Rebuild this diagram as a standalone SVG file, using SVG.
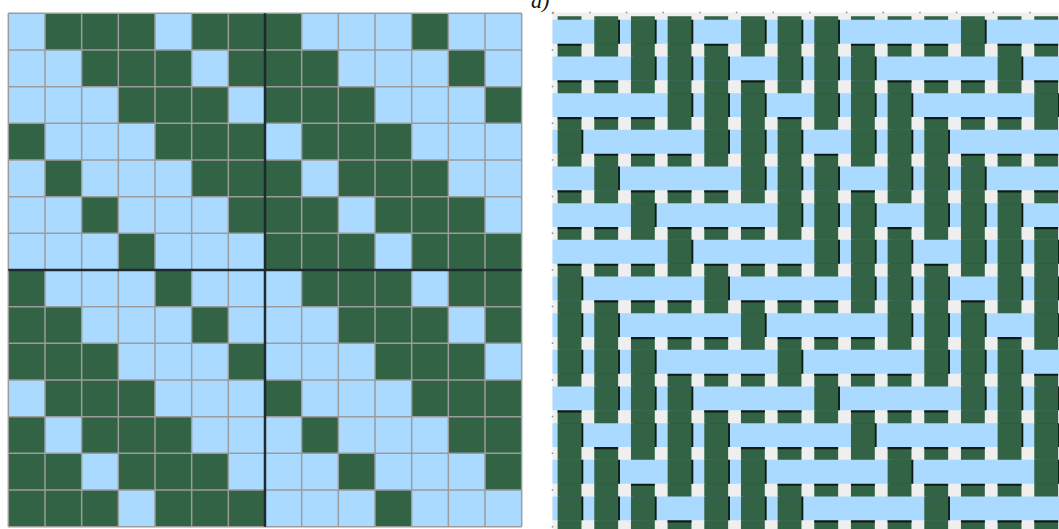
<svg xmlns="http://www.w3.org/2000/svg" width="1059" height="529" viewBox="0 0 1059 529">
<style>
.dk{fill:#316344}
.lt{fill:#AADAFF}
.sh{fill:#0f1c14}
.grid{stroke:#9c9c9c;stroke-width:1.5;fill:none}
.mid{stroke:#1e2a30;stroke-width:2.5;fill:none}
.tick{stroke:#8a8a8a;stroke-width:1.5;fill:none;stroke-dasharray:1.5 35.17}
.lbl{font-family:"Liberation Serif","Times New Roman",serif;font-style:italic;font-size:22px;fill:#111}
</style>
<defs>
<path id="cellsA" d="M100 0h300v100h-300z M500 0h200v100h-200z M200 100h300v100h-300z M600 100h100v100h-100z M300 200h300v100h-300z M0 300h100v100h-100z M400 300h300v100h-300z M100 400h100v100h-100z M500 400h200v100h-200z M200 500h100v100h-100z M600 500h100v100h-100z M300 600h100v100h-100z"/>
<path id="upA" d="M114 20h65v65h-65z M214 20h65v65h-65z M314 20h65v65h-65z M514 20h65v65h-65z M614 20h65v65h-65z M214 120h65v65h-65z M314 120h65v65h-65z M414 120h65v65h-65z M614 120h65v65h-65z M314 220h65v65h-65z M414 220h65v65h-65z M514 220h65v65h-65z M14 320h65v65h-65z M414 320h65v65h-65z M514 320h65v65h-65z M614 320h65v65h-65z M114 420h65v65h-65z M514 420h65v65h-65z M614 420h65v65h-65z M214 520h65v65h-65z M614 520h65v65h-65z M314 620h65v65h-65z"/>
<path id="upB" d="M14 20h65v65h-65z M414 20h65v65h-65z M14 120h65v65h-65z M114 120h65v65h-65z M514 120h65v65h-65z M14 220h65v65h-65z M114 220h65v65h-65z M214 220h65v65h-65z M614 220h65v65h-65z M114 320h65v65h-65z M214 320h65v65h-65z M314 320h65v65h-65z M14 420h65v65h-65z M214 420h65v65h-65z M314 420h65v65h-65z M414 420h65v65h-65z M14 520h65v65h-65z M114 520h65v65h-65z M314 520h65v65h-65z M414 520h65v65h-65z M514 520h65v65h-65z M14 620h65v65h-65z M114 620h65v65h-65z M214 620h65v65h-65z M414 620h65v65h-65z M514 620h65v65h-65z M614 620h65v65h-65z"/>
</defs>
<rect width="1059" height="529" fill="#ffffff"/>
<text class="lbl" x="531" y="8">a)</text>
<g id="draft" transform="translate(8.333 13.333) scale(0.366667)">
<rect x="0" y="0" width="1400" height="1400" class="lt"/>
<rect x="700" y="0" width="700" height="700" class="dk"/>
<rect x="0" y="700" width="700" height="700" class="dk"/>
<use href="#cellsA" class="dk"/>
<use href="#cellsA" class="dk" x="700" y="700"/>
<use href="#cellsA" class="lt" x="700"/>
<use href="#cellsA" class="lt" y="700"/>
<path class="grid" vector-effect="non-scaling-stroke" d="M0 0V1400M100 0V1400M200 0V1400M300 0V1400M400 0V1400M500 0V1400M600 0V1400M800 0V1400M900 0V1400M1000 0V1400M1100 0V1400M1200 0V1400M1300 0V1400M1400 0V1400M0 0H1400M0 100H1400M0 200H1400M0 300H1400M0 400H1400M0 500H1400M0 600H1400M0 800H1400M0 900H1400M0 1000H1400M0 1100H1400M0 1200H1400M0 1300H1400M0 1400H1400"/>
<path class="mid" vector-effect="non-scaling-stroke" d="M700 0V1400M0 700H1400"/>
</g>
<g id="weave">
<rect x="552.5" y="12.5" width="507" height="517" fill="#EFEFEF"/>
<path class="tick" d="M552.5 12.5H1059"/>
<path class="tick" d="M552.5 12.5V529"/>
<g transform="translate(552.5 12.5) scale(0.366667)">
<path class="dk" d="M14 10h65v1420h-65zM114 10h65v1420h-65zM214 10h65v1420h-65zM314 10h65v1420h-65zM414 10h65v1420h-65zM514 10h65v1420h-65zM614 10h65v1420h-65zM714 10h65v1420h-65zM814 10h65v1420h-65zM914 10h65v1420h-65zM1014 10h65v1420h-65zM1114 10h65v1420h-65zM1214 10h65v1420h-65zM1314 10h65v1420h-65z"/>
<use href="#upB" class="sh" y="6"/>
<use href="#upA" class="sh" x="700" y="6"/>
<use href="#upA" class="sh" y="706"/>
<use href="#upB" class="sh" x="700" y="706"/>
<path class="lt" d="M0 20h1400v65h-1400zM0 120h1400v65h-1400zM0 220h1400v65h-1400zM0 320h1400v65h-1400zM0 420h1400v65h-1400zM0 520h1400v65h-1400zM0 620h1400v65h-1400zM0 720h1400v65h-1400zM0 820h1400v65h-1400zM0 920h1400v65h-1400zM0 1020h1400v65h-1400zM0 1120h1400v65h-1400zM0 1220h1400v65h-1400zM0 1320h1400v65h-1400z"/>
<use href="#upA" class="sh" x="5"/>
<use href="#upB" class="sh" x="705"/>
<use href="#upB" class="sh" x="5" y="700"/>
<use href="#upA" class="sh" x="705" y="700"/>
<use href="#upA" class="dk"/>
<use href="#upB" class="dk" x="700"/>
<use href="#upB" class="dk" y="700"/>
<use href="#upA" class="dk" x="700" y="700"/>
</g>
</g>
</svg>
